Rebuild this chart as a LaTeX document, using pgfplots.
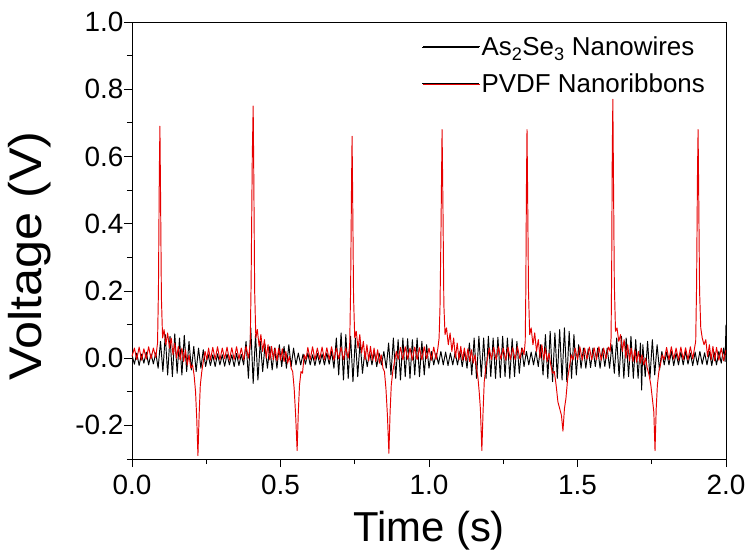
\documentclass[border=0pt]{standalone}
\usepackage{fontspec}
\setmainfont{Liberation Sans}
\newfontfamily\ylabfont{Liberation Sans}[FakeStretch=1.1]
\usepackage{pgfplots}
\pgfplotsset{compat=1.18}
\usetikzlibrary{calc}
\definecolor{pvdf}{RGB}{230,0,0}
\begin{document}
\begin{tikzpicture}
\begin{axis}[
  scale only axis, width=594bp, height=437bp,
  xmin=0, xmax=2, ymin=-0.3, ymax=1.0,
  xtick={0,0.5,1,1.5,2}, xticklabels={0.0,0.5,1.0,1.5,2.0},
  ytick={-0.2,0,0.2,0.4,0.6,0.8,1.0}, yticklabels={-0.2,0.0,0.2,0.4,0.6,0.8,1.0},
  minor xtick={0.25,0.75,1.25,1.75},
  minor ytick={-0.3,-0.1,0.1,0.3,0.5,0.7,0.9},
  tick pos=left, tick align=outside,
  major tick length=8bp, minor tick length=5bp,
  tick style={black, line width=0.8bp},
  axis line style={line width=0.8bp},
  tick label style={font=\fontsize{28}{34}\selectfont},
  xticklabel style={yshift=-5bp},
  yticklabel style={xshift=3bp},
  xlabel={Time (s)}, ylabel={Voltage (V)},
  xlabel style={font=\fontsize{42}{50}\selectfont, at={(axis description cs:0.5,-0.165)}, anchor=center},
  ylabel style={font=\ylabfont\fontsize{46}{54}\selectfont, at={(axis description cs:-0.172,0.4645)}, anchor=center},
  legend style={fill=none, draw=none, at={(axis description cs:1,1)}, anchor=north east,
    xshift=-16bp, yshift=-11bp, font=\fontsize{26}{30}\selectfont, row sep=12bp,
    /tikz/every even column/.append style={column sep=2bp}},
  legend cell align=left,
  every axis plot/.append style={line width=0.95bp, line join=round},
]
\addlegendimage{legend image code/.code={\path (0bp,0bp) -- (57bp,0bp);}}
\addlegendentry{As\textsubscript{2}Se\textsubscript{3} Nanowires}
\addlegendimage{legend image code/.code={\path (0bp,0bp) -- (57bp,0bp);}}
\addlegendentry{PVDF Nanoribbons}
\addplot[black, forget plot] coordinates {
(0.000,0.010)(0.008,-0.018)(0.016,0.015)(0.024,-0.022)(0.032,0.012)(0.040,-0.015)(0.048,0.018)(0.056,-0.02)
(0.064,0.013)(0.072,-0.017)(0.080,0.016)(0.088,-0.03)(0.096,0.05)(0.104,-0.04)(0.112,0.07)(0.120,-0.05)
(0.128,0.065)(0.136,-0.055)(0.144,0.072)(0.152,-0.045)(0.160,0.06)(0.168,-0.05)(0.176,0.068)(0.184,-0.04)
(0.192,0.05)(0.200,-0.035)(0.208,0.035)(0.216,-0.04)(0.224,0.03)(0.232,-0.03)(0.240,0.025)(0.248,-0.025)
(0.256,0.012)(0.264,-0.022)(0.272,0.01)(0.280,-0.025)(0.288,0.013)(0.296,-0.02)(0.304,0.01)(0.312,-0.024)
(0.320,0.012)(0.328,-0.02)(0.336,0.01)(0.344,-0.025)(0.352,0.014)(0.360,-0.022)(0.368,0.011)(0.376,-0.02)
(0.384,0.05)(0.392,-0.06)(0.400,0.09)(0.408,-0.075)(0.416,0.07)(0.424,-0.065)(0.432,0.05)(0.440,-0.04)
(0.448,0.04)(0.456,-0.03)(0.464,0.035)(0.472,-0.035)(0.480,0.03)(0.488,-0.03)(0.496,0.04)(0.504,-0.025)
(0.512,0.035)(0.520,-0.03)(0.528,0.04)(0.536,-0.025)(0.544,0.03)(0.552,-0.02)(0.560,0.015)(0.568,-0.02)
(0.576,0.012)(0.584,-0.018)(0.592,0.015)(0.600,-0.02)(0.608,0.01)(0.616,-0.022)(0.624,0.014)(0.632,-0.018)
(0.640,0.012)(0.648,-0.02)(0.656,0.015)(0.664,-0.018)(0.672,0.02)(0.680,-0.03)(0.688,0.06)(0.696,-0.05)
(0.704,0.075)(0.712,-0.065)(0.720,0.07)(0.728,-0.06)(0.736,0.065)(0.744,-0.07)(0.752,0.06)(0.760,-0.055)
(0.768,0.05)(0.776,-0.045)(0.784,0.02)(0.792,-0.025)(0.800,0.018)(0.808,-0.02)(0.816,0.02)(0.824,-0.025)
(0.832,0.015)(0.840,-0.02)(0.848,0.02)(0.856,-0.03)(0.864,0.045)(0.872,-0.05)(0.880,0.06)(0.888,-0.06)
(0.896,0.055)(0.904,-0.065)(0.912,0.06)(0.920,-0.055)(0.928,0.058)(0.936,-0.06)(0.944,0.055)(0.952,-0.05)
(0.960,0.06)(0.968,-0.055)(0.976,0.05)(0.984,-0.05)(0.992,0.04)(1.000,-0.03)(1.008,0.02)(1.016,-0.02)
(1.024,0.015)(1.032,-0.018)(1.040,0.02)(1.048,-0.02)(1.056,0.018)(1.064,-0.022)(1.072,0.015)(1.080,-0.02)
(1.088,0.018)(1.096,-0.02)(1.104,0.02)(1.112,-0.025)(1.120,0.02)(1.128,-0.03)(1.136,0.045)(1.144,-0.05)
(1.152,0.06)(1.160,-0.06)(1.168,0.065)(1.176,-0.055)(1.184,0.06)(1.192,-0.06)(1.200,0.065)(1.208,-0.055)
(1.216,0.06)(1.224,-0.06)(1.232,0.062)(1.240,-0.058)(1.248,0.065)(1.256,-0.055)(1.264,0.06)(1.272,-0.06)
(1.280,0.058)(1.288,-0.055)(1.296,0.05)(1.304,-0.045)(1.312,0.03)(1.320,-0.025)(1.328,0.02)(1.336,-0.02)
(1.344,0.018)(1.352,-0.02)(1.360,0.02)(1.368,-0.025)(1.376,0.04)(1.384,-0.05)(1.392,0.07)(1.400,-0.06)
(1.408,0.08)(1.416,-0.07)(1.424,0.075)(1.432,-0.06)(1.440,0.085)(1.448,-0.065)(1.456,0.09)(1.464,-0.07)
(1.472,0.08)(1.480,-0.06)(1.488,0.07)(1.496,-0.05)(1.504,0.04)(1.512,-0.03)(1.520,0.03)(1.528,-0.03)
(1.536,0.028)(1.544,-0.028)(1.552,0.03)(1.560,-0.025)(1.568,0.03)(1.576,-0.03)(1.584,0.028)(1.592,-0.025)
(1.600,0.03)(1.608,-0.03)(1.616,0.04)(1.624,-0.045)(1.632,0.06)(1.640,-0.055)(1.648,0.065)(1.656,-0.06)
(1.664,0.06)(1.672,-0.055)(1.680,0.065)(1.688,-0.06)(1.696,0.055)(1.704,-0.06)(1.712,0.045)(1.716,-0.095)(1.720,0.04)
(1.728,-0.055)(1.736,0.05)(1.744,-0.06)(1.752,0.055)(1.760,-0.05)(1.768,0.04)(1.776,-0.035)(1.784,0.02)
(1.792,-0.02)(1.800,0.018)(1.808,-0.02)(1.816,0.02)(1.824,-0.022)(1.832,0.015)(1.840,-0.02)(1.848,0.018)
(1.856,-0.02)(1.864,0.02)(1.872,-0.018)(1.880,0.015)(1.888,-0.022)(1.896,0.018)(1.904,-0.02)(1.912,0.02)
(1.920,-0.018)(1.928,0.016)(1.936,-0.02)(1.944,0.02)(1.952,-0.022)(1.960,0.018)(1.968,-0.02)(1.976,0.02)
(1.984,-0.015)(1.992,0.03)(1.997,-0.01)(2.000,0.1)
};
\addplot[pvdf, forget plot] coordinates {
(0.000,0.005)(0.008,0.030)(0.016,-0.004)(0.024,0.033)(0.032,-0.006)(0.040,0.028)(0.048,-0.003)(0.056,0.034)
(0.064,-0.002)(0.072,0.030)(0.080,0.002)(0.086,0.045)(0.089,0.20)(0.092,0.55)(0.094,0.69)(0.096,0.50)
(0.099,0.18)(0.103,0.06)(0.108,0.085)(0.114,0.04)(0.120,0.075)(0.126,0.03)(0.132,0.06)(0.138,0.01)
(0.144,0.045)(0.150,0.0)(0.156,0.035)(0.162,-0.005)(0.168,0.03)(0.174,-0.01)(0.180,0.025)(0.186,-0.02)
(0.192,0.01)(0.198,-0.03)(0.204,-0.02)(0.209,-0.05)(0.214,-0.10)(0.218,-0.18)(0.222,-0.29)(0.226,-0.17)
(0.230,-0.08)(0.235,-0.04)(0.240,-0.01)(0.246,0.02)(0.252,-0.005)(0.258,0.03)(0.264,-0.006)(0.272,0.032)
(0.280,-0.004)(0.288,0.034)(0.296,-0.005)(0.304,0.030)(0.312,-0.002)(0.320,0.033)(0.328,-0.006)(0.336,0.031)
(0.344,-0.004)(0.352,0.034)(0.360,-0.003)(0.368,0.030)(0.376,-0.005)(0.384,0.035)(0.392,0.0)(0.398,0.04)
(0.401,0.22)(0.405,0.6)(0.408,0.75)(0.410,0.55)(0.413,0.2)(0.417,0.06)(0.422,0.085)(0.428,0.035)
(0.434,0.07)(0.440,0.02)(0.446,0.055)(0.452,0.0)(0.458,0.04)(0.464,-0.005)(0.470,0.035)(0.476,-0.005)
(0.482,0.03)(0.488,-0.008)(0.494,0.03)(0.500,-0.006)(0.506,0.028)(0.512,-0.01)(0.518,0.02)(0.524,-0.015)
(0.530,0.005)(0.536,-0.03)(0.541,-0.04)(0.546,-0.09)(0.551,-0.17)(0.556,-0.275)(0.560,-0.16)(0.564,-0.08)
(0.569,-0.04)(0.574,-0.045)(0.580,0.01)(0.586,-0.004)(0.592,0.032)(0.600,-0.004)(0.608,0.034)(0.616,-0.006)
(0.624,0.030)(0.632,-0.003)(0.640,0.033)(0.648,-0.005)(0.656,0.031)(0.664,-0.004)(0.672,0.034)(0.680,-0.006)
(0.688,0.030)(0.696,-0.002)(0.704,0.033)(0.712,-0.005)(0.720,0.030)(0.728,0.0)(0.733,0.04)(0.736,0.2)
(0.739,0.5)(0.741,0.66)(0.743,0.48)(0.746,0.18)(0.750,0.06)(0.755,0.08)(0.761,0.03)(0.767,0.07)
(0.773,0.015)(0.779,0.05)(0.785,-0.005)(0.791,0.04)(0.797,-0.008)(0.803,0.035)(0.809,-0.006)(0.815,0.03)
(0.821,-0.01)(0.827,0.025)(0.833,-0.015)(0.839,0.01)(0.845,-0.03)(0.850,-0.04)(0.855,-0.09)(0.860,-0.17)
(0.865,-0.283)(0.869,-0.16)(0.873,-0.08)(0.878,-0.04)(0.884,-0.01)(0.890,0.02)(0.896,-0.004)(0.904,0.032)
(0.912,-0.005)(0.920,0.034)(0.928,-0.003)(0.936,0.030)(0.944,-0.006)(0.952,0.033)(0.960,-0.004)(0.968,0.031)
(0.976,-0.005)(0.984,0.034)(0.992,-0.002)(1.000,0.030)(1.008,-0.006)(1.016,0.033)(1.024,-0.004)(1.030,0.03)
(1.034,0.06)(1.037,0.15)(1.040,0.35)(1.044,0.68)(1.047,0.45)(1.050,0.16)(1.054,0.07)(1.059,0.09)
(1.065,0.04)(1.071,0.075)(1.077,0.02)(1.083,0.06)(1.089,0.0)(1.095,0.045)(1.101,-0.005)(1.107,0.035)
(1.113,-0.006)(1.119,0.03)(1.125,-0.008)(1.131,0.028)(1.137,-0.01)(1.143,0.025)(1.149,-0.015)(1.155,0.01)
(1.160,-0.03)(1.165,-0.06)(1.169,-0.1)(1.173,-0.15)(1.178,-0.275)(1.182,-0.16)(1.186,-0.07)(1.191,-0.03)
(1.197,0.0)(1.203,0.03)(1.210,-0.004)(1.218,0.032)(1.226,-0.005)(1.234,0.034)(1.242,-0.003)(1.250,0.030)
(1.258,-0.006)(1.266,0.033)(1.274,-0.004)(1.282,0.031)(1.290,-0.005)(1.298,0.034)(1.306,-0.002)(1.314,0.030)
(1.320,0.01)(1.324,0.05)(1.326,0.2)(1.328,0.5)(1.330,0.68)(1.332,0.5)(1.335,0.2)(1.339,0.07)
(1.344,0.09)(1.350,0.04)(1.356,0.075)(1.362,0.02)(1.368,0.055)(1.374,0.0)(1.380,0.04)(1.386,-0.005)
(1.392,0.03)(1.398,-0.01)(1.404,0.015)(1.410,-0.02)(1.416,-0.045)(1.422,-0.04)(1.428,-0.08)(1.434,-0.13)
(1.440,-0.15)(1.446,-0.17)(1.451,-0.217)(1.456,-0.15)(1.461,-0.12)(1.467,-0.06)(1.473,-0.025)(1.479,0.01)
(1.485,-0.005)(1.492,0.03)(1.500,-0.004)(1.508,0.034)(1.516,-0.006)(1.524,0.030)(1.532,-0.003)(1.540,0.033)
(1.548,-0.005)(1.556,0.031)(1.564,-0.004)(1.572,0.034)(1.580,-0.006)(1.588,0.030)(1.596,-0.002)(1.604,0.033)
(1.610,0.02)(1.613,0.06)(1.615,0.25)(1.617,0.6)(1.619,0.77)(1.621,0.55)(1.624,0.22)(1.628,0.08)
(1.633,0.09)(1.639,0.05)(1.645,0.07)(1.651,0.02)(1.657,0.055)(1.663,0.0)(1.669,0.04)(1.675,-0.008)
(1.681,0.03)(1.687,-0.01)(1.693,0.025)(1.699,-0.012)(1.705,0.02)(1.711,-0.015)(1.717,0.01)(1.723,-0.02)
(1.729,0.0)(1.735,-0.03)(1.741,-0.05)(1.747,-0.08)(1.752,-0.12)(1.757,-0.16)(1.761,-0.275)(1.765,-0.15)
(1.769,-0.08)(1.774,-0.04)(1.779,-0.02)(1.785,0.01)(1.792,-0.004)(1.800,0.032)(1.808,-0.005)(1.816,0.034)
(1.824,-0.003)(1.832,0.030)(1.840,-0.006)(1.848,0.033)(1.856,-0.004)(1.864,0.031)(1.872,-0.005)(1.880,0.034)
(1.888,-0.002)(1.894,0.03)(1.898,0.05)(1.901,0.22)(1.904,0.55)(1.906,0.68)(1.908,0.5)(1.911,0.2)
(1.915,0.09)(1.920,0.06)(1.926,0.04)(1.932,0.055)(1.938,0.005)(1.944,0.04)(1.950,-0.005)(1.956,0.035)
(1.962,-0.008)(1.968,0.032)(1.976,-0.006)(1.984,0.03)(1.992,-0.008)(2.000,0.025)
};
\draw[black, line width=0.9bp] (axis description cs:0.490,0.945) -- (axis description cs:0.586,0.945);
\draw[pvdf, line width=0.9bp] (axis description cs:0.490,0.858) -- (axis description cs:0.586,0.858);
\end{axis}
\path ($(current axis.south west)+(-132bp,-98bp)$) rectangle ($(current axis.north east)+(24bp,22bp)$);
\end{tikzpicture}
\end{document}
